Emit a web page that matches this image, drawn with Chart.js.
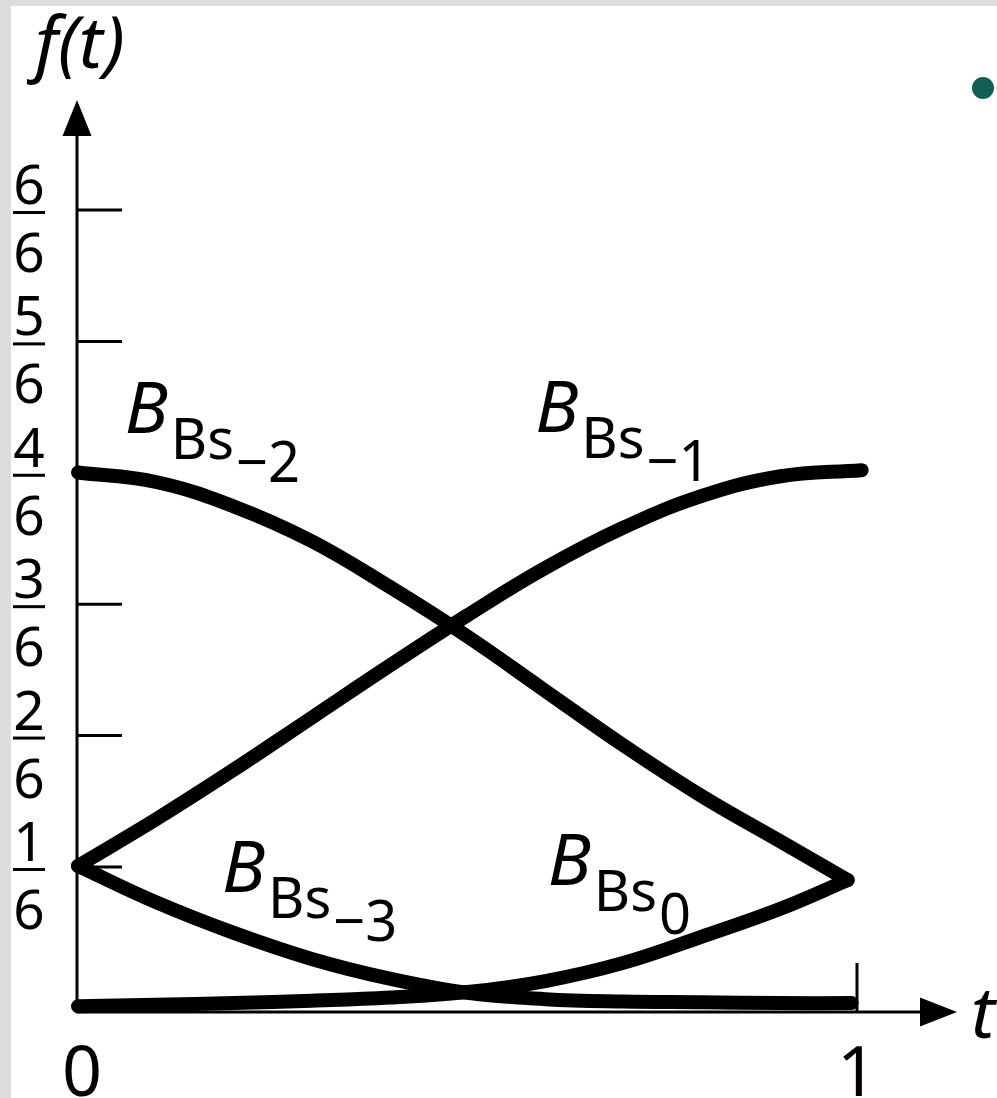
<!DOCTYPE html>
<html>
<head>
<meta charset="utf-8">
<script src="https://cdn.jsdelivr.net/npm/chart.js@4"></script>
<style>
  html, body { margin: 0; padding: 0; }
  body { width: 997px; height: 1098px; background: #dddddd; position: relative; overflow: hidden; }
  #frame { position: absolute; left: 11px; top: 6px; width: 986px; height: 1092px; background: #fff; }
  #bullet { position: absolute; left: 972px; top: 77px; width: 22px; height: 22px; border-radius: 50%; background: #135e52; }
</style>
</head>
<body>
<div id="frame"><canvas id="chart" width="986" height="1092"></canvas></div>
<div id="bullet"></div>
<script>
// Values (t along x, f(t) along y)
const tBm3 = [0, 0.1, 0.2, 0.3, 0.4, 0.5, 0.6, 0.7, 0.8, 0.9, 0.993];
const fBm3 = [0.168, 0.122, 0.083, 0.050, 0.025, 0.007, -0.001, -0.004, -0.005, -0.006, -0.006];

const tBm2 = [0, 0.1, 0.2, 0.3, 0.4, 0.5, 0.6, 0.7, 0.8, 0.9, 0.988];
const fBm2 = [0.667, 0.655, 0.624, 0.580, 0.522, 0.459, 0.390, 0.321, 0.257, 0.200, 0.150];

const tBm1 = [0, 0.1, 0.2, 0.3, 0.4, 0.5, 0.6, 0.7, 0.8, 0.9, 1.006];
const fBm1 = [0.168, 0.227, 0.290, 0.356, 0.422, 0.486, 0.546, 0.597, 0.637, 0.662, 0.670];

const tB0 = [0, 0.1, 0.2, 0.3, 0.4, 0.5, 0.6, 0.7, 0.8, 0.9, 0.988];
const fB0 = [-0.010, -0.008, -0.006, -0.003, 0.001, 0.008, 0.022, 0.045, 0.078, 0.113, 0.150];

// y tick positions and their fraction labels
const yTickValues = [1 / 6, 2 / 6, 3 / 6, 4 / 6, 5 / 6, 6 / 6];
const yTickNumerators = ['1', '2', '3', '4', '5', '6'];
const yTickDenominator = '6';
const xTickValues = [0, 1];
const xTickLabels = ['0', '1'];

// curve names
const curveSubs = ['\u22123', '\u22122', '\u22121', '0'];

function toPoints(ts, fs) {
    return ts.map((t, i) => ({ x: t, y: fs[i] }));
}

const lineStyle = {
    borderColor: '#000',
    borderWidth: 14,
    borderCapStyle: 'round',
    borderJoinStyle: 'round',
    pointRadius: 0,
    showLine: true,
    fill: false,
    clip: false,
    tension: 0.4
};

// label anchors in chart units (where the "B" starts, on its baseline)
const labelAnchors = [
    { t: 0.185, f: 0.135 },
    { t: 0.060, f: 0.717 },
    { t: 0.587, f: 0.718 },
    { t: 0.603, f: 0.144 }
];

const FONT = '"Noto Sans", "DejaVu Sans", sans-serif';

const axesPlugin = {
    id: 'axesPlugin',
    beforeDatasetsDraw(chart) {
        const { ctx, chartArea, scales: { x, y } } = chart;
        const ax = x.getPixelForValue(0) - 1;
        const ay = y.getPixelForValue(y.min);
        const yTip = chartArea.top - 110;
        const xTip = x.getPixelForValue(1) + 100;
        ctx.save();
        ctx.strokeStyle = '#000';
        ctx.fillStyle = '#000';
        ctx.lineWidth = 3;
        ctx.lineCap = 'butt';

        // y axis + arrow
        ctx.beginPath();
        ctx.moveTo(ax, ay + 1);
        ctx.lineTo(ax, yTip + 30);
        ctx.stroke();
        ctx.beginPath();
        ctx.moveTo(ax, yTip);
        ctx.lineTo(ax - 14.5, yTip + 36);
        ctx.lineTo(ax + 14.5, yTip + 36);
        ctx.closePath();
        ctx.fill();

        // x axis + arrow
        ctx.beginPath();
        ctx.moveTo(ax - 1, ay);
        ctx.lineTo(xTip - 30, ay);
        ctx.stroke();
        ctx.beginPath();
        ctx.moveTo(xTip, ay);
        ctx.lineTo(xTip - 37, ay - 14.5);
        ctx.lineTo(xTip - 37, ay + 14.5);
        ctx.closePath();
        ctx.fill();

        // y ticks and fraction labels
        const labelX = ax - 48;
        ctx.textAlign = 'center';
        ctx.textBaseline = 'alphabetic';
        ctx.font = '55px ' + FONT;
        yTickValues.forEach((v, i) => {
            const py = y.getPixelForValue(v);
            ctx.beginPath();
            ctx.moveTo(ax, py);
            ctx.lineTo(ax + 45, py);
            ctx.stroke();
            ctx.fillRect(labelX - 16, py + 1, 32, 3);
            ctx.fillText(yTickNumerators[i], labelX, py - 6);
            ctx.fillText(yTickDenominator, labelX, py + 62);
        });

        // x tick at t = 1
        const px1 = x.getPixelForValue(1);
        ctx.beginPath();
        ctx.moveTo(px1, ay);
        ctx.lineTo(px1, ay - 49);
        ctx.stroke();

        // x tick labels
        ctx.font = '70px ' + FONT;
        xTickValues.forEach((v, i) => {
            ctx.fillText(xTickLabels[i], x.getPixelForValue(v) + (i === 0 ? 4 : 0), ay + 84);
        });

        // axis titles
        ctx.textAlign = 'left';
        ctx.font = 'italic 72px ' + FONT;
        ctx.fillText('t', xTip + 14, ay + 26);
        ctx.fillText('f(t)', ax - 42, yTip - 32);
        ctx.restore();
    },
    afterDraw(chart) {
        const { ctx, scales: { x, y } } = chart;
        ctx.save();
        ctx.fillStyle = '#000';
        ctx.textBaseline = 'alphabetic';
        ctx.textAlign = 'left';
        labelAnchors.forEach((a, i) => {
            const lx = x.getPixelForValue(a.t);
            const ly = y.getPixelForValue(a.f);
            ctx.font = 'italic 72px ' + FONT;
            ctx.fillText('B', lx, ly);
            const bx = lx + 46;
            ctx.font = '56px ' + FONT;
            ctx.fillText('Bs', bx, ly + 26);
            const sx = bx + ctx.measureText('Bs').width + 2;
            ctx.fillText(curveSubs[i], sx, ly + 49);
        });
        ctx.restore();
    }
};

new Chart(document.getElementById('chart').getContext('2d'), {
    type: 'scatter',
    data: {
        datasets: [
            { label: 'B_Bs_-3', data: toPoints(tBm3, fBm3), ...lineStyle },
            { label: 'B_Bs_-2', data: toPoints(tBm2, fBm2), ...lineStyle },
            { label: 'B_Bs_-1', data: toPoints(tBm1, fBm1), ...lineStyle },
            { label: 'B_Bs_0', data: toPoints(tB0, fB0), ...lineStyle }
        ]
    },
    options: {
        responsive: false,
        animation: false,
        layout: { padding: { left: 67, right: 140, top: 204, bottom: 86 } },
        plugins: { legend: { display: false }, tooltip: { enabled: false } },
        scales: {
            x: { type: 'linear', min: 0, max: 1, display: false },
            y: { type: 'linear', min: -0.0173, max: 1, display: false }
        }
    },
    plugins: [axesPlugin]
});
</script>
</body>
</html>
